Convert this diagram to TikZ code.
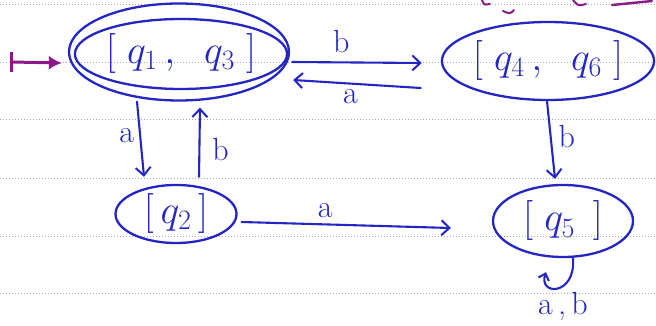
\documentclass[tikz,border=0pt]{standalone}
\usepackage{fix-cm}
\usetikzlibrary{shapes.geometric,arrows.meta,calc}
\definecolor{ink}{RGB}{35,38,195}
\definecolor{pinkink}{RGB}{140,25,135}
\definecolor{rule}{RGB}{170,170,175}
\begin{document}
\begin{tikzpicture}[x=1pt,y=-1pt,
  state/.style={ellipse, draw=ink, line width=2.3pt, text=ink, inner sep=0pt,
                font=\fontsize{40}{44}\selectfont},
  ring/.style={ellipse, draw=ink, line width=2.3pt, inner sep=0pt},
  edge/.style={draw=ink, line width=2.1pt, line cap=round,
               -{Straight Barb[length=8pt,width=15pt,line width=2pt]}},
  lbl/.style={text=ink, font=\fontsize{32}{36}\selectfont, inner sep=0pt}]
\useasboundingbox (0,0) rectangle (656,326);
\fill[white] (0,0) rectangle (656,326);

% ruled paper
\foreach \y in {5,63,120,178,236,293}
  \draw[rule, dotted, line width=1pt] (0,\y) -- (656,\y);

% stray pen marks along the top edge
\draw[pinkink, line width=2pt, line cap=round] (482,0) .. controls (484,5) .. (490,4);
\draw[pinkink, line width=2pt, line cap=round] (503,11) .. controls (510,14) .. (514,10);
\draw[pinkink, line width=2pt, line cap=round] (573,0) .. controls (578,6) .. (586,4);
\draw[pinkink, line width=2.4pt, line cap=round] (612,5) -- (652,1);

% states (the start state is also accepting: double ring)
\node[state, minimum width=199pt, minimum height=70pt] (q13) at (181,54) {$[\;q_1\,,\;\;q_3\;]$};
\node[ring, minimum width=220pt, minimum height=97pt] (q13o) at (179,52) {};
\node[state, minimum width=212pt, minimum height=78pt] (q46) at (548,61) {$[\;q_4\,,\;\;q_6\;]$};
\node[state, minimum width=121pt, minimum height=58pt] (q2) at (176,214) {$[\,q_2\,]$};
\node[state, minimum width=140pt, minimum height=72pt] (q5) at (563,221) {$[\;q_5\;\,]$};

% start marker
\coordinate (start) at (11,62);
\draw[pinkink, line width=3pt, -{Latex[length=13pt,width=14pt]}] (start) -- ($(q13o.west)+(-6,11)$);
\draw[pinkink, line width=3pt] ($(start)+(0,-10)$) -- ($(start)+(0,10)$);

% transitions
\draw[edge] ($(q13o.east)+(2,10)$) -- node[lbl, above=9pt, pos=0.38] {b} ($(q46.west)+(-19,2)$);
\draw[edge] ($(q46.west)+(-20,27)$) -- node[lbl, below=5pt, pos=0.55] {a} ($(q13o.east)+(3,28)$);
\draw[edge] ($(q13o.south)+(-42,0)$) -- node[lbl, left=5pt, pos=0.45] {a} ($(q2.north)+(-32,-7)$);
\draw[edge] ($(q2.north)+(23,-7)$) -- node[lbl, right=12pt, pos=0.4] {b} ($(q13o.south)+(21,6)$);
\draw[edge] ($(q46.south)+(-1,0)$) -- node[lbl, right=7pt, pos=0.45] {b} ($(q5.north)+(-8,-5)$);
\draw[edge] ($(q2.east)+(4,8)$) -- node[lbl, above=6pt, pos=0.4] {a} ($(q5.west)+(-41,7)$);
\draw[draw=ink, line width=2.1pt, line cap=round,
      -{Straight Barb[length=6pt,width=11pt,line width=2pt]}]
  ($(q5.south)+(10,0)$) .. controls (576,296) and (538,296) .. ($(q5.south)+(-17,14)$);
\node[lbl] (loop) at (563,306) {a\,,\,b};
\end{tikzpicture}
\end{document}
